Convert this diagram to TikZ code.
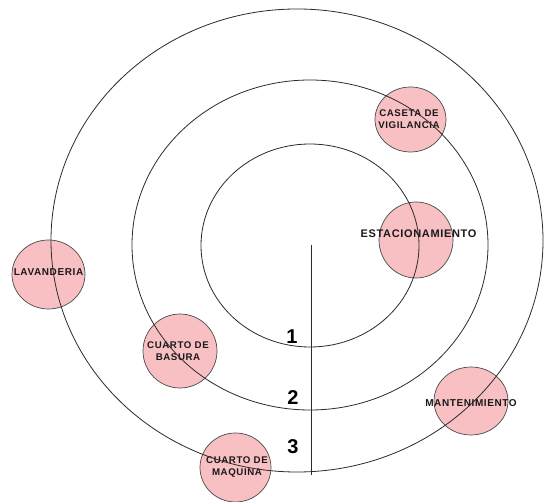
\documentclass[tikz,border=0pt]{standalone}
\usepackage{fontspec}
\setmainfont{Liberation Sans}
\newfontfamily\lblfont[LetterSpace=6]{Liberation Sans}
\usetikzlibrary{shapes.geometric}
\definecolor{rose}{HTML}{F8C0C3}
\definecolor{ink}{HTML}{2B2B2B}
\definecolor{rim}{HTML}{4A4A4A}
\tikzset{
  area/.style={ellipse,draw=rim,fill=rose,line width=0.7pt,inner sep=0pt,outer sep=0pt},
  lbl/.style={font=\lblfont\bfseries\fontsize{9.7}{12}\selectfont,text=black!90,align=center,inner sep=0pt},
  lblw/.style={lbl,font=\lblfont\bfseries\fontsize{10}{12}\selectfont},
  lblb/.style={lbl,font=\lblfont\bfseries\fontsize{11}{12}\selectfont},
  ring/.style={ellipse,draw=ink,line width=0.8pt,inner sep=0pt,outer sep=0pt},
  axis/.style={draw=ink,line width=0.8pt},
  num/.style={font=\bfseries\fontsize{20}{20}\selectfont,inner sep=0pt},
}
\begin{document}
\begin{tikzpicture}[x=1pt,y=-1pt]
\path[use as bounding box,fill=white] (0,0) rectangle (544,502);
% areas around the rings
\node[area,minimum width=71pt,minimum height=65pt,label={[lbl,xshift=-1.5pt]center:CASETA DE\\VIGILANCIA}] (caseta) at (410.5,119.5) {};
\node[area,minimum width=74pt,minimum height=76pt,label={[lblb,xshift=2.5pt,yshift=6pt]center:ESTACIONAMIENTO}] (estac) at (416,240) {};
\node[area,minimum width=73pt,minimum height=69pt,label={[lblw,yshift=2pt]center:LAVANDERIA}] (lavand) at (48.5,274.5) {};
\node[area,minimum width=74pt,minimum height=74pt,label={[lbl,xshift=-2pt]center:CUARTO DE\\BASURA}] (basura) at (180,351) {};
\node[area,minimum width=74pt,minimum height=68pt,label={[lblw,yshift=-2.5pt]center:MANTENIMIENTO}] (mant) at (471,401) {};
\node[area,minimum width=71pt,minimum height=69pt,label={[lbl,xshift=1.5pt]center:CUARTO DE\\MAQUINA}] (maquina) at (235.5,467.5) {};
% rings
\node[ring,minimum width=218pt,minimum height=203pt] (r1) at (310,245.5) {};
\node[ring,minimum width=356pt,minimum height=330pt] (r2) at (310,245) {};
\node[ring,minimum width=492pt,minimum height=463pt] (r3) at (297,240.5) {};
\coordinate (hub) at (311,245);
\coordinate (foot) at (311,475);
\draw[axis] (hub) -- (foot);
\node[num] (n1) at (292,337) {1};
\node[num] (n2) at (293,398) {2};
\node[num] (n3) at (293,447) {3};
\end{tikzpicture}
\end{document}
